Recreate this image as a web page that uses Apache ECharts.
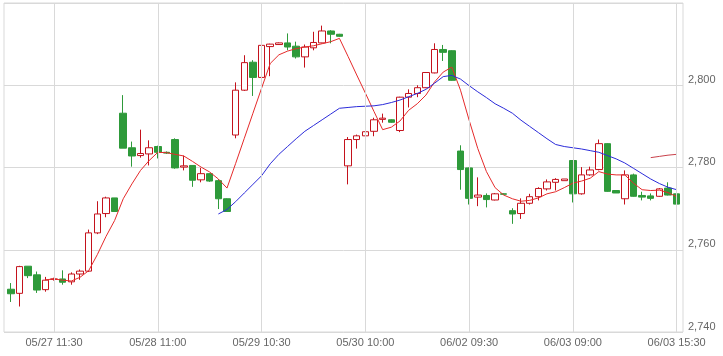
<!DOCTYPE html>
<html>
<head>
<meta charset="utf-8">
<script src="https://cdn.jsdelivr.net/npm/echarts@6/dist/echarts.min.js"></script>
<style>
  html, body { margin: 0; padding: 0; background: #fff; }
  #chart { width: 723px; height: 356px; }
</style>
</head>
<body>
<div id="chart"></div>
<script>
// trading days and 30 min slots
const days = ['05/27', '05/28', '05/29', '05/30', '06/02', '06/03']
const slots = ['09:00', '09:30', '10:00', '10:30', '11:00', '11:30', '12:00',
  '12:30', '13:00', '13:30', '14:00', '14:30', '15:00']
const categories = []
days.forEach(d => slots.forEach(s => categories.push(d + ' ' + s)))
categories[categories.length - 1] = '06/03 15:30'

const labelIdx = [5, 17, 29, 41, 53, 65, 77]
const yTicks = [2740, 2760, 2780, 2800, 2820]

const opens = [2750.4, 2749.4, 2756.0, 2753.9, 2750.3, 2752.8, 2752.9, 2752.2, 2754.1, 2754.8,
  2764.1, 2768.8, 2772.6, 2793.2, 2784.8, 2782.9, 2783.3, 2785.1, 2783.7, 2786.8,
  2780.1, 2780.5, 2777.0, 2778.5, 2776.8, 2772.4, 2787.9, 2798.8, 2805.6, 2801.9,
  2809.4, 2809.9, 2810.3, 2809.5, 2806.9, 2809.1, 2810.3, 2813.2, 2812.4, 2780.4,
  2786.8, 2787.7, 2788.8, 2791.7, 2791.6, 2789.0, 2797.1, 2798.0, 2799.4, 2803.0,
  2808.7, 2808.4, 2784.0, 2779.9, 2772.8, 2773.2, 2772.1, 2773.6, 2769.5, 2768.8,
  2771.3, 2772.9, 2774.8, 2776.4, 2776.8, 2781.7, 2773.6, 2778.2, 2779.5, 2785.8,
  2774.4, 2772.4, 2778.2, 2773.2, 2773.1, 2773.0, 2775.0, 2773.6]
const closes = [2749.3, 2755.9, 2753.7, 2750.2, 2752.6, 2752.9, 2752.1, 2754.1, 2754.8, 2764.1,
  2768.7, 2772.6, 2769.3, 2784.7, 2782.8, 2783.4, 2784.8, 2783.7, 2783.5, 2779.9,
  2780.4, 2776.9, 2778.5, 2776.7, 2772.4, 2769.3, 2798.8, 2805.5, 2801.9, 2809.7,
  2810.0, 2810.3, 2809.3, 2806.9, 2809.3, 2810.4, 2813.2, 2812.4, 2811.9, 2786.8,
  2787.7, 2788.7, 2791.6, 2792.0, 2791.0, 2797.1, 2798.0, 2799.4, 2803.1, 2808.7,
  2808.0, 2801.2, 2779.5, 2772.5, 2773.3, 2772.2, 2773.6, 2773.5, 2768.7, 2771.3,
  2772.9, 2774.9, 2776.5, 2777.1, 2777.2, 2773.6, 2778.2, 2779.4, 2785.8, 2774.2,
  2773.8, 2778.2, 2773.0, 2772.8, 2772.5, 2774.8, 2773.3, 2771.1]
const lows = [2747.3, 2746.2, 2753.1, 2749.5, 2749.8, 2752.5, 2751.5, 2751.5, 2752.7, 2754.6,
  2763.8, 2767.9, 2769.3, 2784.7, 2780.2, 2782.4, 2780.5, 2782.2, 2783.3, 2779.7,
  2779.3, 2775.3, 2776.4, 2776.5, 2769.9, 2769.2, 2787.1, 2798.6, 2797.4, 2800.2,
  2802.2, 2809.8, 2808.5, 2806.5, 2804.3, 2808.5, 2810.2, 2810.2, 2811.8, 2775.9,
  2784.6, 2782.5, 2787.6, 2790.9, 2790.9, 2788.6, 2794.6, 2797.1, 2799.3, 2802.9,
  2805.9, 2801.1, 2774.6, 2771.0, 2770.6, 2770.3, 2772.0, 2773.4, 2766.3, 2767.5,
  2771.0, 2772.0, 2774.4, 2774.4, 2776.8, 2771.5, 2773.4, 2778.0, 2779.3, 2774.1,
  2773.8, 2771.0, 2772.9, 2772.0, 2772.0, 2772.9, 2773.2, 2771.1]
const highs = [2751.9, 2756.1, 2756.0, 2754.7, 2753.4, 2753.2, 2755.0, 2754.5, 2755.2, 2764.9,
  2771.8, 2772.9, 2772.6, 2797.6, 2786.3, 2789.2, 2786.6, 2785.3, 2783.9, 2787.1,
  2782.9, 2780.5, 2779.9, 2778.6, 2777.2, 2772.5, 2800.7, 2807.3, 2806.1, 2811.2,
  2810.1, 2810.4, 2812.6, 2810.6, 2809.9, 2813.0, 2814.5, 2813.4, 2812.5, 2787.4,
  2788.0, 2788.9, 2792.1, 2793.1, 2791.7, 2797.2, 2799.0, 2800.0, 2803.2, 2810.2,
  2809.8, 2808.5, 2785.4, 2780.0, 2777.6, 2773.7, 2773.8, 2773.7, 2770.1, 2772.5,
  2773.6, 2775.2, 2777.1, 2777.4, 2777.2, 2781.8, 2780.1, 2780.2, 2786.8, 2785.9,
  2774.4, 2779.3, 2778.5, 2774.1, 2773.7, 2775.0, 2776.4, 2773.6]

// short moving average (red)
const maShort = [null, null, null, null, 2752.7, 2752.9, 2752.6, 2752.4, 2753.3, 2754.9,
  2758.8, 2763.2, 2767.1, 2772.4, 2776.0, 2779.3, 2781.7, 2783.7, 2783.6, 2783.2,
  2782.8, 2781.5, 2780.1, 2778.9, 2777.2, 2775.0, 2781.0, 2787.1, 2793.2, 2799.3,
  2805.3, 2807.4, 2808.3, 2808.9, 2809.3, 2809.6, 2810.1, 2810.6, 2811.4, 2807.0,
  2802.5, 2798.1, 2793.6, 2789.2, 2789.8, 2791.3, 2793.9, 2795.5, 2797.6, 2800.8,
  2803.2, 2804.4, 2798.8, 2791.5, 2784.6, 2779.0, 2775.1, 2773.3, 2772.4, 2771.8,
  2772.0, 2772.6, 2773.6, 2774.1, 2775.1, 2776.2, 2776.7, 2777.4, 2779.0, 2778.4,
  2778.2, 2778.2, 2776.2, 2774.6, 2774.4, 2774.5, 2773.9, 2772.9]

// long moving average (blue)
const maLong = [null, null, null, null, null, null, null, null, null, null,
  null, null, null, null, null, null, null, null, null, null,
  null, null, null, null, 2768.7, 2769.8, 2771.7, 2773.8, 2775.9, 2778.0,
  2780.9, 2783.2, 2785.1, 2787.0, 2788.8, 2790.2, 2791.6, 2793.0, 2794.4, 2794.6,
  2794.8, 2794.9, 2795.0, 2795.3, 2795.8, 2796.4, 2797.2, 2798.0, 2799.0, 2800.5,
  2802.1, 2802.4, 2801.5, 2799.9, 2798.4, 2797.0, 2795.5, 2794.4, 2793.2, 2791.5,
  2790.0, 2788.5, 2787.0, 2785.6, 2785.1, 2784.8, 2784.5, 2784.1, 2783.7, 2782.9,
  2782.1, 2781.1, 2779.8, 2778.5, 2777.2, 2776.1, 2775.2, 2774.6]

// short red segment at the right end
const lastTrend = [2782.4, 2782.7, 2783.0, 2783.2]

const trendData = categories.map((c, i) => i >= 74 ? lastTrend[i - 74] : null)
const candleData = categories.map((c, i) => [opens[i], closes[i], lows[i], highs[i]])

const myChart = echarts.init(document.getElementById('chart'))
myChart.setOption({
  animation: false,
  grid: [
    { left: 6.5, right: 42, top: 3, bottom: 24 },
    { left: 4, right: 40, top: 3, bottom: 24, show: true, borderColor: '#d9d9d9', borderWidth: 1 }
  ],
  xAxis: [
    {
      type: 'category',
      gridIndex: 0,
      data: categories,
      boundaryGap: true,
      axisLine: { show: false },
      axisTick: { show: false },
      splitLine: { show: false },
      axisLabel: {
        interval: (idx) => labelIdx.indexOf(idx) >= 0,
        color: '#666',
        fontSize: 11,
        fontFamily: 'Liberation Sans',
        margin: 5
      }
    },
    { type: 'value', gridIndex: 1, min: 0, max: 1, show: false }
  ],
  yAxis: [
    { type: 'value', gridIndex: 0, min: yTicks[0], max: yTicks[yTicks.length - 1], show: false },
    {
      type: 'value',
      gridIndex: 1,
      position: 'right',
      min: yTicks[0],
      max: yTicks[yTicks.length - 1],
      interval: 20,
      axisLine: { show: false },
      axisTick: { show: false },
      splitLine: { lineStyle: { color: '#d9d9d9', width: 1 } },
      axisLabel: {
        showMaxLabel: false,
        verticalAlign: 'bottom',
        margin: 5,
        color: '#666',
        fontSize: 11,
        fontFamily: 'Liberation Sans',
        formatter: (v) => v.toLocaleString('en-US')
      }
    }
  ],
  series: [
    {
      // vertical grid lines through the labelled candles
      type: 'line',
      xAxisIndex: 0,
      yAxisIndex: 0,
      z: 1,
      data: categories.map(() => null),
      markLine: {
        silent: true,
        symbol: 'none',
        label: { show: false },
        lineStyle: { color: '#d9d9d9', type: 'solid', width: 1 },
        data: labelIdx.map(i => ({ xAxis: i }))
      }
    },
    {
      type: 'candlestick',
      xAxisIndex: 0,
      yAxisIndex: 0,
      barWidth: 7,
      data: candleData,
      itemStyle: {
        color: '#ffffff',
        color0: '#2e9a3a',
        borderColor: '#c4121c',
        borderColor0: '#2e9a3a',
        borderWidth: 1
      }
    },
    {
      type: 'line',
      xAxisIndex: 0,
      yAxisIndex: 0,
      data: maShort,
      showSymbol: false,
      lineStyle: { color: '#e52a2a', width: 1 },
      z: 3
    },
    {
      type: 'line',
      xAxisIndex: 0,
      yAxisIndex: 0,
      data: maLong,
      showSymbol: false,
      lineStyle: { color: '#2b2bd9', width: 1 },
      z: 3
    },
    {
      type: 'line',
      xAxisIndex: 0,
      yAxisIndex: 0,
      data: trendData,
      showSymbol: false,
      lineStyle: { color: '#c8404a', width: 1 },
      z: 3
    }
  ]
})
window.onresize = function () {
  myChart.resize()
}
</script>
</body>
</html>
